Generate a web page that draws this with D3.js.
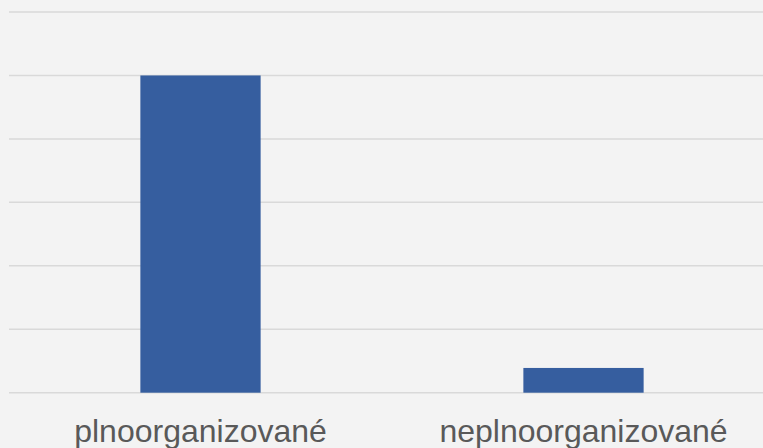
<!DOCTYPE html>
<html>
<head>
<meta charset="utf-8">
<script src="https://cdn.jsdelivr.net/npm/d3@7"></script>
<style>
  html, body { margin: 0; padding: 0; background: #f3f3f3; }
  svg { display: block; }
</style>
</head>
<body>
<svg width="763" height="448"></svg>
<script>
// data
const categories = ['plnoorganizované', 'neplnoorganizované'];
const values = [250, 19.5];
const yTicks = [0, 50, 100, 150, 200, 250, 300];

const svg = d3.select('svg');
const width = +svg.attr('width');
const height = +svg.attr('height');

svg.append('rect')
    .attr('width', width)
    .attr('height', height)
    .attr('fill', '#f3f3f3');

const x = d3.scaleBand()
    .domain(categories)
    .range([9, 775])
    .paddingInner(0.686)
    .paddingOuter(0.343);

const y = d3.scaleLinear()
    .domain([0, 300])
    .range([392.7, 12]);

// gridlines
svg.append('g')
  .selectAll('line')
  .data(yTicks)
  .enter().append('line')
    .attr('x1', 9)
    .attr('x2', width)
    .attr('y1', d => y(d))
    .attr('y2', d => y(d))
    .attr('stroke', '#d9d9d9')
    .attr('stroke-width', 1.5);

// bars
svg.append('g')
  .selectAll('rect')
  .data(categories)
  .enter().append('rect')
    .attr('x', d => x(d))
    .attr('y', (d, i) => y(values[i]))
    .attr('width', x.bandwidth())
    .attr('height', (d, i) => y(0) - y(values[i]))
    .attr('fill', '#365e9f');

// category labels
svg.append('g')
  .selectAll('text')
  .data(categories)
  .enter().append('text')
    .attr('x', d => x(d) + x.bandwidth() / 2)
    .attr('y', 442)
    .attr('text-anchor', 'middle')
    .attr('font-family', 'Liberation Sans, Arial, sans-serif')
    .attr('font-size', 32)
    .attr('fill', '#595959')
    .text(d => d);
</script>
</body>
</html>
